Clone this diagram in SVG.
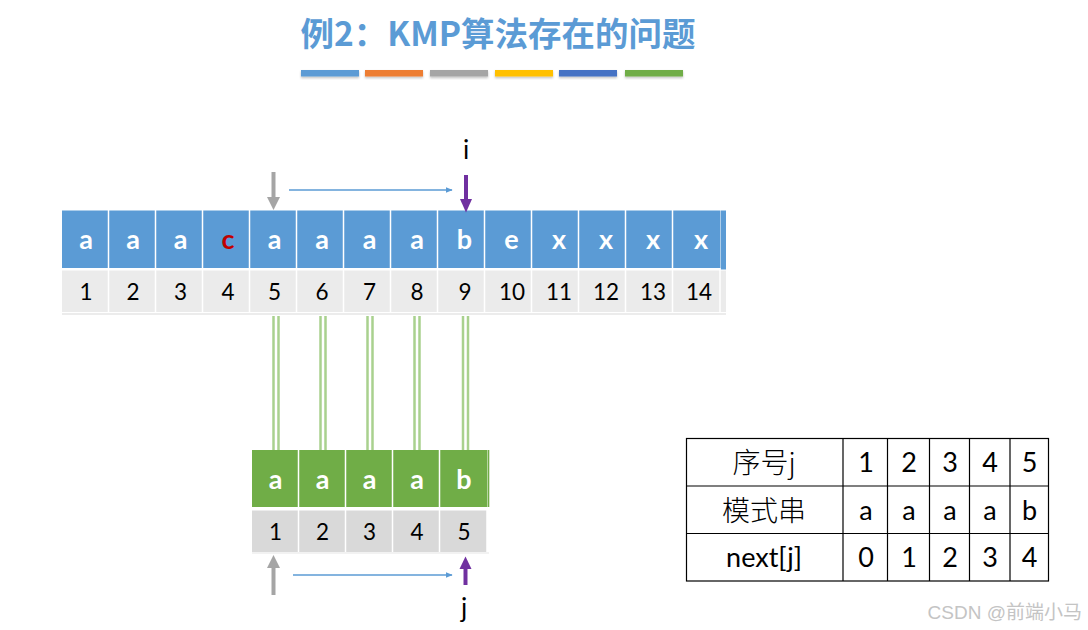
<svg xmlns="http://www.w3.org/2000/svg" width="1088" height="630" viewBox="0 0 1088 630">
<style>
.title{font-family:"Noto Sans CJK SC","Noto Sans",sans-serif;font-weight:bold;font-size:33.5px;fill:#5B9BD5}
.cl{font-family:Lato,"Open Sans",sans-serif;font-weight:bold;font-size:27px;fill:#fff;text-anchor:middle}
.num{font-family:Lato,"Open Sans",sans-serif;font-size:22.5px;fill:#000;text-anchor:middle}
.lbl{font-family:Lato,"Open Sans",sans-serif;font-size:26px;fill:#000;text-anchor:middle}
.tb{font-family:Lato,"Noto Sans CJK SC",sans-serif;font-size:27px;fill:#000;text-anchor:middle}
.tcj{font-family:"Noto Sans CJK SC",sans-serif;font-size:28px;fill:#000;text-anchor:middle;font-weight:300}
.blue{fill:#5B9BD5}
.gray1{fill:#EBEBEB}
.gray2{fill:#D9D9D9}
.green{fill:#70AD47}
.sep{stroke:#fff;stroke-width:1.5}
.dbl{stroke:#A9D18E;stroke-width:2.5}
.mv{stroke:#5B9BD5;stroke-width:1.5;fill:none;marker-end:url(#ah)}
.tl{stroke:#000;stroke-width:1.2;fill:none}
</style>
<defs>
<marker id="ah" viewBox="0 0 10 10" refX="9" refY="5" markerWidth="7" markerHeight="7" orient="auto" markerUnits="userSpaceOnUse">
<path d="M0,1 L10,5 L0,9 z" fill="#5B9BD5"/>
</marker>
<filter id="sh" x="-5%" y="-50%" width="110%" height="200%">
<feDropShadow dx="0" dy="1.5" stdDeviation="1" flood-color="#000" flood-opacity="0.25"/>
</filter>
</defs>
<rect width="1088" height="630" fill="#fff"/>

<g id="title">
<text class="title" x="498" y="46" text-anchor="middle">例2：KMP算法存在的问题</text>
<g filter="url(#sh)">
<rect x="301" y="70" width="58" height="6.5" fill="#5B9BD5"/>
<rect x="365" y="70" width="58" height="6.5" fill="#ED7D31"/>
<rect x="430" y="70" width="58" height="6.5" fill="#A5A5A5"/>
<rect x="495" y="70" width="58" height="6.5" fill="#FFC000"/>
<rect x="559" y="70" width="58" height="6.5" fill="#4472C4"/>
<rect x="625" y="70" width="58" height="6.5" fill="#70AD47"/>
</g>
</g>

<g id="main-string">
<rect class="blue" x="62" y="210.5" width="658" height="57.5"/>
<rect class="blue" x="720.5" y="210.5" width="5.5" height="59"/>
<rect class="gray1" x="62" y="270.5" width="664" height="41.5"/>
<line x1="62" y1="314" x2="726" y2="314" stroke="#E6E6E6" stroke-width="1.5"/>
<g class="sep">
<line x1="108.5" y1="210" x2="108.5" y2="312"/><line x1="155.5" y1="210" x2="155.5" y2="312"/>
<line x1="202.5" y1="210" x2="202.5" y2="312"/><line x1="249.5" y1="210" x2="249.5" y2="312"/>
<line x1="296.5" y1="210" x2="296.5" y2="312"/><line x1="343.5" y1="210" x2="343.5" y2="312"/>
<line x1="390.5" y1="210" x2="390.5" y2="312"/><line x1="437.5" y1="210" x2="437.5" y2="312"/>
<line x1="484.5" y1="210" x2="484.5" y2="312"/><line x1="531.5" y1="210" x2="531.5" y2="312"/>
<line x1="578.5" y1="210" x2="578.5" y2="312"/><line x1="625.5" y1="210" x2="625.5" y2="312"/>
<line x1="672.5" y1="210" x2="672.5" y2="312"/><line x1="720" y1="268" x2="720" y2="312"/>
</g>
<text class="cl" x="86" y="249">a</text><text class="cl" x="133" y="249">a</text>
<text class="cl" x="180.5" y="249">a</text><text class="cl" x="228" y="249" style="fill:#C00000">c</text>
<text class="cl" x="274.5" y="249">a</text><text class="cl" x="322" y="249">a</text>
<text class="cl" x="369.5" y="249">a</text><text class="cl" x="417" y="249">a</text>
<text class="cl" x="464.5" y="249">b</text><text class="cl" x="511.5" y="249">e</text>
<text class="cl" x="559" y="249">x</text><text class="cl" x="606" y="249">x</text>
<text class="cl" x="653" y="249">x</text><text class="cl" x="701" y="249">x</text>
<text class="num" x="86" y="300">1</text><text class="num" x="133" y="300">2</text>
<text class="num" x="180.5" y="300">3</text><text class="num" x="228" y="300">4</text>
<text class="num" x="274.5" y="300">5</text><text class="num" x="322" y="300">6</text>
<text class="num" x="369.5" y="300">7</text><text class="num" x="417" y="300">8</text>
<text class="num" x="465" y="300">9</text><text class="num" x="512" y="300">10</text>
<text class="num" x="559" y="300">11</text><text class="num" x="606" y="300">12</text>
<text class="num" x="653" y="300">13</text><text class="num" x="699" y="300">14</text>
</g>

<g id="pattern-string">
<rect class="green" x="252" y="450" width="235" height="57"/>
<rect class="green" x="487.5" y="450" width="1.8" height="57"/>
<rect class="gray2" x="252" y="510.5" width="235" height="41.5"/>
<line x1="252" y1="553" x2="489" y2="553" stroke="#E6E6E6" stroke-width="1.2"/>
<g class="sep">
<line x1="298.5" y1="450" x2="298.5" y2="552"/><line x1="345.5" y1="450" x2="345.5" y2="552"/>
<line x1="392.5" y1="450" x2="392.5" y2="552"/><line x1="439.5" y1="450" x2="439.5" y2="552"/>
<line x1="487" y1="507" x2="487" y2="552"/>
</g>
<text class="cl" x="275.5" y="489">a</text><text class="cl" x="322.5" y="489">a</text>
<text class="cl" x="369.5" y="489">a</text><text class="cl" x="417" y="489">a</text>
<text class="cl" x="464" y="489">b</text>
<text class="num" x="275.5" y="540">1</text><text class="num" x="322.5" y="540">2</text>
<text class="num" x="369.5" y="540">3</text><text class="num" x="417" y="540">4</text>
<text class="num" x="464" y="540">5</text>
</g>

<g id="connectors">
<g class="dbl">
<line x1="273.5" y1="316" x2="273.5" y2="450"/><line x1="278.5" y1="316" x2="278.5" y2="450"/>
<line x1="320.5" y1="316" x2="320.5" y2="450"/><line x1="325.5" y1="316" x2="325.5" y2="450"/>
<line x1="367.5" y1="316" x2="367.5" y2="450"/><line x1="372.5" y1="316" x2="372.5" y2="450"/>
<line x1="414.5" y1="316" x2="414.5" y2="450"/><line x1="419.5" y1="316" x2="419.5" y2="450"/>
<line x1="463" y1="316" x2="463" y2="450"/><line x1="468" y1="316" x2="468" y2="450"/>
</g>
<line x1="273.5" y1="172" x2="273.5" y2="198" stroke="#A5A5A5" stroke-width="4"/>
<polygon points="267,197 280,197 273.5,210" fill="#A5A5A5"/>
<line x1="466" y1="175" x2="466" y2="200" stroke="#7030A0" stroke-width="4"/>
<polygon points="460,199 472,199 466,212.5" fill="#7030A0"/>
<line class="mv" x1="289" y1="190" x2="452" y2="190"/>
<line x1="273.5" y1="595" x2="273.5" y2="567" stroke="#A5A5A5" stroke-width="4"/>
<polygon points="267,568 280,568 273.5,555" fill="#A5A5A5"/>
<line x1="465.5" y1="585" x2="465.5" y2="568" stroke="#7030A0" stroke-width="4"/>
<polygon points="459.5,569 471.5,569 465.5,556.5" fill="#7030A0"/>
<line class="mv" x1="293" y1="575" x2="452" y2="575"/>
</g>

<g id="labels">
<text class="lbl" x="466" y="159">i</text>
<text class="lbl" x="464" y="617">j</text>
</g>

<g id="next-table">
<rect class="tl" x="686.5" y="438.5" width="362" height="142.5"/>
<line class="tl" x1="686.5" y1="486" x2="1048.5" y2="486"/>
<line class="tl" x1="686.5" y1="533.5" x2="1048.5" y2="533.5"/>
<line class="tl" x1="843" y1="438.5" x2="843" y2="581"/>
<line class="tl" x1="887.5" y1="438.5" x2="887.5" y2="581"/>
<line class="tl" x1="929.5" y1="438.5" x2="929.5" y2="581"/>
<line class="tl" x1="969.5" y1="438.5" x2="969.5" y2="581"/>
<line class="tl" x1="1010" y1="438.5" x2="1010" y2="581"/>
<text class="tcj" x="764" y="473">序号j</text>
<text class="tcj" x="764" y="521">模式串</text>
<text class="tb" x="764" y="567">next[j]</text>
<text class="tb" x="866" y="472">1</text><text class="tb" x="909" y="472">2</text>
<text class="tb" x="950" y="472">3</text><text class="tb" x="990" y="472">4</text><text class="tb" x="1029.5" y="472">5</text>
<text class="tb" x="866" y="520">a</text><text class="tb" x="909" y="520">a</text>
<text class="tb" x="950" y="520">a</text><text class="tb" x="990" y="520">a</text><text class="tb" x="1029.5" y="520">b</text>
<text class="tb" x="866" y="567">0</text><text class="tb" x="909" y="567">1</text>
<text class="tb" x="950" y="567">2</text><text class="tb" x="990" y="567">3</text><text class="tb" x="1029.5" y="567">4</text>
</g>

<g id="watermark">
<text x="1082" y="619" text-anchor="end" font-family="'Liberation Sans','Noto Sans CJK SC',sans-serif" font-size="19" fill="#C4C4C4">CSDN @前端小马</text>
</g>
</svg>
